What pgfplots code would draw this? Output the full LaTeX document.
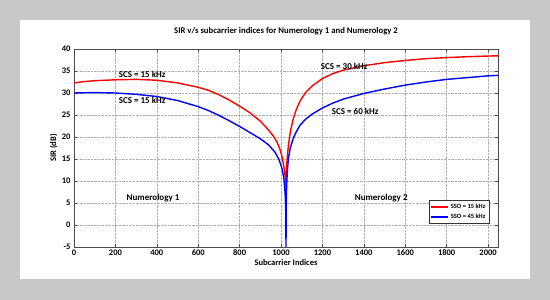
\documentclass[border=0pt]{standalone}
\usepackage{pgfplots}
\pgfplotsset{compat=1.18}
\usepackage{fontspec}
\setmainfont{Carlito}
\definecolor{bggray}{RGB}{200,200,200}
\definecolor{gridgray}{RGB}{175,175,175}

\begin{document}
\begin{tikzpicture}[x=1pt,y=1pt]
% frame: gray backdrop with white panel
\fill[bggray] (0,0) rectangle (550,300);
\fill[white] (20,21) rectangle (530,280);

\begin{axis}[
    at={(74pt,53pt)}, anchor=south west,
    scale only axis,
    width=424pt, height=198pt,
    xmin=0, xmax=2048,
    ymin=-5, ymax=40,
    xtick={0,200,...,2000},
    ytick={-5,0,...,40},
    tick align=inside,
    major tick length=3pt,
    grid=major,
    major grid style={densely dotted, gridgray, line width=0.4pt},
    axis line style={black!70, line width=0.5pt},
    tick style={black!70, line width=0.4pt},
    ticklabel style={font=\fontsize{8.5}{9}\selectfont\bfseries},
    xticklabel style={yshift=1pt},
    /pgf/number format/assume math mode=true,
    /pgf/number format/set thousands separator={},
    xlabel={Subcarrier Indices},
    ylabel={SIR (dB)},
    label style={font=\fontsize{8.5}{9}\selectfont\bfseries},
    xlabel style={at={(axis description cs:0.5,-0.081)}, anchor=center},
    ylabel style={at={(axis description cs:-0.048,0.5)}, anchor=center},
    title={SIR v/s subcarrier indices for Numerology 1 and Numerology 2},
    title style={at={(axis description cs:0.5,1.058)}, anchor=center,
                 font=\fontsize{8.7}{9}\selectfont\bfseries},
    legend style={at={(axis description cs:0.979,0.237)}, anchor=north east,
                  font=\fontsize{6.5}{7.5}\selectfont\bfseries, draw=black!80,
                  line width=0.4pt, inner sep=1.5pt, row sep=0pt},
    legend cell align=left,
]
\addplot[red, line width=1.4pt] coordinates {
    (0,32.3) (50,32.6) (100,32.8) (200,33.0) (300,33.1) (400,32.9)
    (500,32.3) (600,31.3) (650,30.6) (700,29.6) (750,28.4) (800,27.0)
    (850,25.5) (900,23.6) (930,22.1) (960,20.4) (980,18.9) (995,17.2)
    (1005,15.5) (1012,13.8) (1017,12.2) (1020,10.9) (1022,9.9) (1023,9.2)
    (1024,9.0) (1025,11.0) (1027,13.3) (1030,15.4) (1036,18.2) (1045,21.2)
    (1060,24.3) (1075,26.4) (1092,28.2) (1120,30.2) (1150,31.6) (1200,33.3)
    (1250,34.4) (1300,35.2) (1400,36.2) (1500,36.9) (1600,37.4) (1700,37.8)
    (1800,38.05) (1900,38.25) (2000,38.4) (2047,38.45)
};
\addlegendentry{SSO = 15 kHz}

\addplot[blue, line width=1.4pt] coordinates {
    (0,30.0) (100,30.1) (200,30.0) (300,29.7) (400,29.2) (500,28.3)
    (600,26.9) (650,26.0) (700,24.9) (750,23.7) (800,22.4) (850,21.0)
    (900,19.6) (940,18.2) (970,16.6) (990,14.9) (1005,12.8) (1013,10.8)
    (1018,8.5) (1021,6.0) (1023,2.0) (1024,-5.0) (1025,4.0) (1026,7.2)
    (1028,10.0) (1031,12.6) (1036,15.2) (1045,17.6) (1060,19.8) (1075,21.3)
    (1092,22.7) (1120,24.1) (1150,25.2) (1200,26.6) (1250,27.7) (1300,28.6)
    (1400,29.9) (1500,30.9) (1600,31.8) (1700,32.5) (1800,33.1) (1900,33.5)
    (2000,33.9) (2047,34.0)
};
\addlegendentry{SSO = 45 kHz}

\begin{scope}[font=\fontsize{9}{10}\selectfont\bfseries]
\node at (axis cs:329,34.3) {SCS = 15 kHz};
\node at (axis cs:329,28.4) {SCS = 15 kHz};
\node at (axis cs:1305,36.1) {SCS = 30 kHz};
\node at (axis cs:1358,25.9) {SCS = 60 kHz};
\node at (axis cs:382,6.1) {Numerology 1};
\node at (axis cs:1484,6.1) {Numerology 2};
\end{scope}
\end{axis}
\end{tikzpicture}
\end{document}
